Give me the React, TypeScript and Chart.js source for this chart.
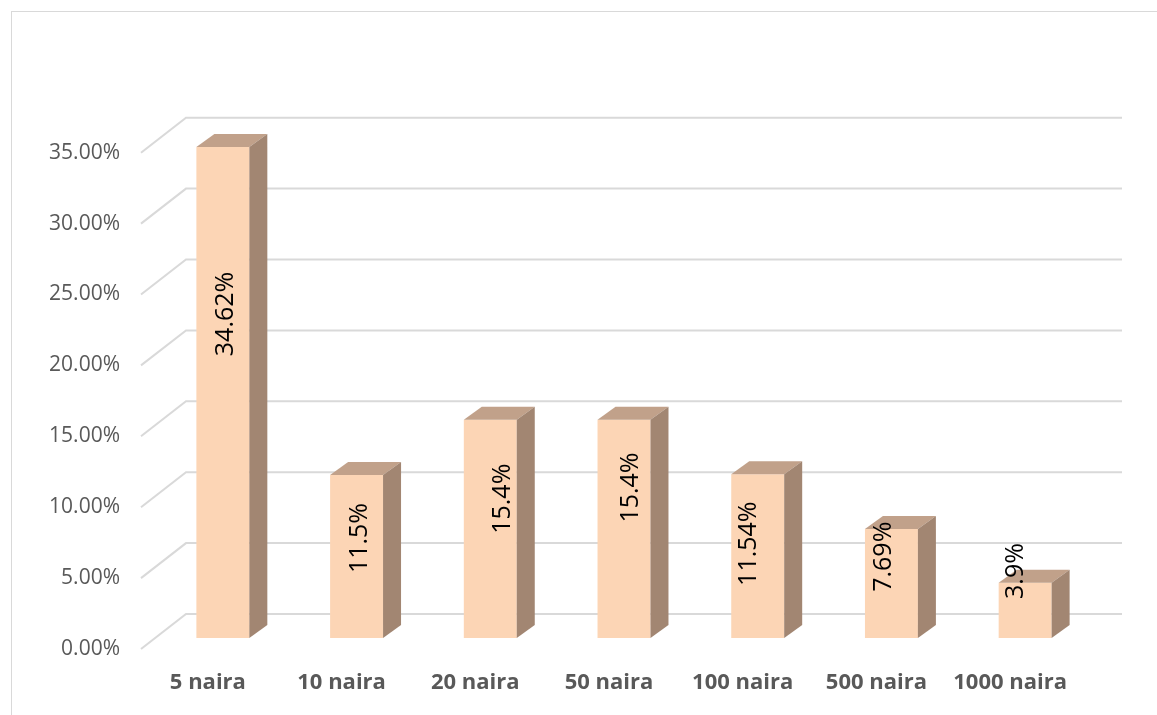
import { useEffect, useRef } from "react";
import { Chart, registerables } from "chart.js";

Chart.register(...registerables);

// Share of each denomination (percent)
const categories = ["5 naira", "10 naira", "20 naira", "50 naira", "100 naira", "500 naira", "1000 naira"];
const shares = [34.62, 11.5, 15.4, 15.4, 11.54, 7.69, 3.9];
const axisMax = 35;
const axisStep = 5;

// Where each rotated value label sits along its bar (in % units) and its sideways nudge (px)
const labelAt = [22.85, 7.05, 9.82, 10.61, 6.65, 5.73, 4.72];
const labelNudge = [3, 3.5, 13, 7, -9, -7.5, -9.5];

const FONT = "'Open Sans', 'Noto Sans', sans-serif";
const FRONT = "#FCD5B5";
const TOP = "#C1A18A";
const SIDE = "#A28672";
const GRID = "#D9D9D9";
const AXIS_TEXT = "#595959";

// 3D box depth of each bar
const DEPTH_X = 18;
const DEPTH_Y = 13;
// offsets of the back wall and the front edge from the bar-face plane
const BACK_X = 30;
const BACK_Y = 24;
const FRONT_X = 15;
const FRONT_Y = 11;

const columns3d = {
  id: "columns3d",
  beforeDraw(chart: any) {
    const ctx = chart.ctx;
    ctx.save();
    ctx.fillStyle = "#ffffff";
    ctx.fillRect(0, 0, chart.width, chart.height);
    ctx.strokeStyle = GRID;
    ctx.lineWidth = 1;
    ctx.strokeRect(11.5, 11.5, chart.width + 40, chart.height + 40);
    ctx.restore();
  },
  beforeDatasetsDraw(chart: any) {
    const { ctx, chartArea: a } = chart;
    const y = chart.scales.y;
    ctx.save();
    ctx.strokeStyle = GRID;
    ctx.lineWidth = 2;
    y.ticks.forEach((t: any) => {
      const py = y.getPixelForValue(t.value);
      ctx.beginPath();
      ctx.moveTo(a.left - FRONT_X, py + FRONT_Y);
      ctx.lineTo(a.left + BACK_X, py - BACK_Y);
      ctx.lineTo(a.right + BACK_X, py - BACK_Y);
      ctx.stroke();
    });
    ctx.restore();
  },
  afterDatasetsDraw(chart: any) {
    const { ctx } = chart;
    const y = chart.scales.y;
    const meta = chart.getDatasetMeta(0);
    ctx.save();
    meta.data.forEach((bar: any) => {
      const { x, y: top, base, width } = bar.getProps(["x", "y", "base", "width"], true);
      const l = x - width / 2;
      const r = x + width / 2;
      // top face
      ctx.fillStyle = TOP;
      ctx.beginPath();
      ctx.moveTo(l, top);
      ctx.lineTo(r, top);
      ctx.lineTo(r + DEPTH_X, top - DEPTH_Y);
      ctx.lineTo(l + DEPTH_X, top - DEPTH_Y);
      ctx.closePath();
      ctx.fill();
      // side face
      ctx.fillStyle = SIDE;
      ctx.beginPath();
      ctx.moveTo(r, top);
      ctx.lineTo(r + DEPTH_X, top - DEPTH_Y);
      ctx.lineTo(r + DEPTH_X, base - DEPTH_Y);
      ctx.lineTo(r, base);
      ctx.closePath();
      ctx.fill();
    });
    // value labels, rotated
    meta.data.forEach((bar: any, i: number) => {
      const { x } = bar.getProps(["x"], true);
      ctx.save();
      ctx.translate(x + labelNudge[i], y.getPixelForValue(labelAt[i]));
      ctx.rotate(-Math.PI / 2);
      ctx.fillStyle = "#000000";
      ctx.font = `25px ${FONT}`;
      ctx.textAlign = "center";
      ctx.textBaseline = "middle";
      ctx.fillText(`${shares[i]}%`, 0, 0);
      ctx.restore();
    });
    ctx.restore();
  },
};

export default function App() {
  const canvasRef = useRef<HTMLCanvasElement | null>(null);

  useEffect(() => {
    const canvas = canvasRef.current;
    if (!canvas) return;
    const chart = new Chart(canvas, {
      type: "bar",
      data: {
        labels: categories,
        datasets: [
          {
            data: shares,
            backgroundColor: FRONT,
            borderWidth: 0,
            barPercentage: 0.396,
            categoryPercentage: 1,
          },
        ],
      },
      options: {
        responsive: false,
        animation: false,
        devicePixelRatio: 1,
        layout: { padding: { top: 141.7, right: 65, left: 0, bottom: 0 } },
        plugins: {
          legend: { display: false },
          tooltip: { enabled: false },
        },
        scales: {
          x: {
            grid: { display: false, drawTicks: false },
            border: { display: false },
            ticks: {
              labelOffset: -15,
              padding: 32,
              color: AXIS_TEXT,
              font: { family: FONT, size: 22, weight: "bold" },
              maxRotation: 0,
              autoSkip: false,
            },
            afterFit: (s: any) => {
              s.height = 77;
            },
          },
          y: {
            min: 0,
            max: axisMax,
            grid: { display: false, drawTicks: false },
            border: { display: false },
            ticks: {
              stepSize: axisStep,
              labelOffset: FRONT_Y,
              padding: 36,
              color: AXIS_TEXT,
              font: { family: FONT, size: 21 },
              callback: (v: any) => `${Number(v).toFixed(2)}%`,
            },
            afterFit: (s: any) => {
              s.width = 156;
            },
          },
        },
      },
      plugins: [columns3d],
    });
    return () => chart.destroy();
  }, []);

  return (
    <div style={{ position: "fixed", left: 0, top: 0, width: 1157, height: 715, background: "#fff" }}>
      <canvas ref={canvasRef} width={1157} height={715} style={{ display: "block" }} />
    </div>
  );
}
